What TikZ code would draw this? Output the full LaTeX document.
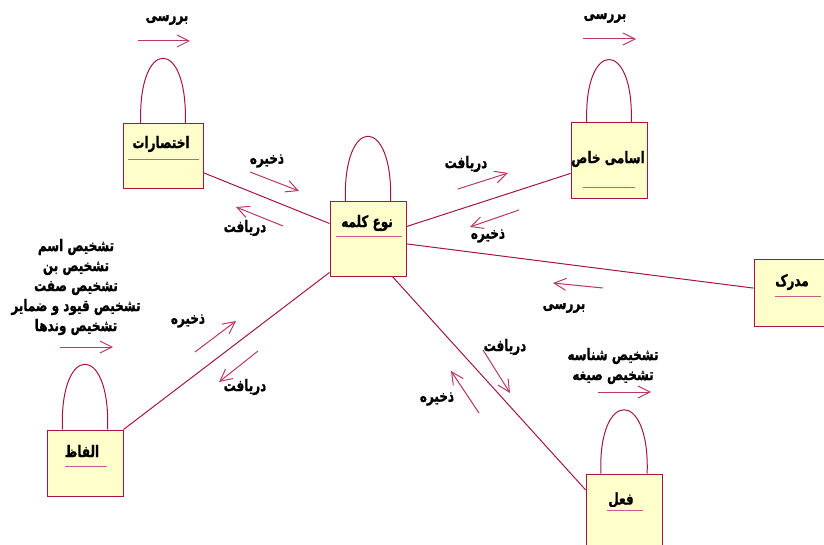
\documentclass[tikz,border=0pt]{standalone}
\usepackage{fontspec}
\newfontfamily\farsi[Script=Arabic, BoldFeatures={FakeBold=1.2}]{DejaVu Sans}
\TeXXeTstate=1
\usetikzlibrary{arrows.meta}

\definecolor{wine}{RGB}{165,20,70}
\definecolor{msgpink}{RGB}{185,55,105}
\definecolor{objfill}{RGB}{255,255,204}
\definecolor{sepline}{RGB}{200,95,130}

\newcommand{\fatxt}[1]{\scalebox{0.75}[1]{\beginR #1\endR}}

\tikzset{every picture/.style={line width=0.75pt}}
\tikzset{
  obj/.style={draw=wine, fill=objfill, inner sep=0pt},
  link/.style={draw=wine},
  sep/.style={draw=sepline},
  msg/.style={draw=msgpink, -{Straight Barb[length=9pt,width=9pt]}},
  lbl/.style={inner sep=0.75pt, font=\farsi\bfseries\fontsize{12}{15}\selectfont},
}

\begin{document}
\begin{tikzpicture}[x=0.75pt,y=0.75pt,yscale=-1,xscale=1]
	%set diagram left start at 0, and has height of 545
	\useasboundingbox (0,0) rectangle (824,545);

	%Shape: Objects
	\node[obj, minimum width=60pt, minimum height=48.75pt] (ekh) at (163,156.5) {};
	\node[obj, minimum width=57pt, minimum height=55.5pt] (noe) at (368,239) {};
	\node[obj, minimum width=57pt, minimum height=57pt] (asami) at (609,161) {};
	\node[obj, minimum width=57pt, minimum height=49.5pt] (madrak) at (792,293) {};
	\node[obj, minimum width=57pt, minimum height=49.5pt] (alfaz) at (85,463) {};
	\node[obj, minimum width=57pt, minimum height=57pt] (fel) at (624,512) {};

	%Links
	\draw[link] (ekh) -- (noe);
	\draw[link] (noe) -- (asami);
	\draw[link] (noe) -- (madrak);
	\draw[link] (noe.221) -- (alfaz.north east);
	\draw[link] (noe.-57) -- (fel.150);

	%Self links
	\draw[link] (ekh.124) .. controls +(-3,-87) and +(3,-87) .. (ekh.56);
	\draw[link] (noe.121) .. controls +(-3,-87) and +(3,-87) .. (noe.59);
	\draw[link] (asami.120) .. controls +(-3,-84) and +(3,-84) .. (asami.60);
	\draw[link] (alfaz.124) .. controls +(-3,-87) and +(3,-87) .. (alfaz.56);
	\draw[link] (fel.121) .. controls +(-3,-85) and +(3,-85) .. (fel.59);

	%Object names
	\node[lbl] (ekh-name) at (161,144) {\fatxt{اختصارات}};
	\node[lbl] (noe-name) at (367,223) {\fatxt{نوع کلمه}};
	\node[lbl] (asami-name) at (608,159) {\fatxt{اسامی خاص}};
	\node[lbl] (madrak-name) at (792,282) {\fatxt{مدرک}};
	\node[lbl] (alfaz-name) at (82,451) {\fatxt{الفاظ}};
	\node[lbl] (fel-name) at (621,500) {\fatxt{فعل}};
	\draw[sep] (128,160) -- (199,160);
	\draw[sep] (336,237) -- (402,237);
	\draw[sep] (583,188) -- (635,188);
	\draw[sep] (775,296) -- (821,296);
	\draw[sep] (65,466) -- (107,466);
	\draw[sep] (607,510) -- (643,510);

	%Messages
	\draw[msg] (138,41) -- (190,41);
	\node[lbl] (ekh-msg) at (167,20) {\fatxt{بررسی}};
	\draw[msg] (583,39) -- (636,39);
	\node[lbl] (asami-msg) at (605,18) {\fatxt{بررسی}};
	\draw[msg] (250,172) -- (299,191);
	\node[lbl] (ekh-store) at (267,161) {\fatxt{ذخیره}};
	\draw[msg] (283,226) -- (236,207);
	\node[lbl] (ekh-get) at (245,228) {\fatxt{دریافت}};
	\draw[msg] (458,189) -- (508,173);
	\node[lbl] (asami-get) at (466,164) {\fatxt{دریافت}};
	\draw[msg] (519,210) -- (470,227);
	\node[lbl] (asami-store) at (488,236) {\fatxt{ذخیره}};
	\draw[msg] (603,288) -- (553,283);
	\node[lbl] (madrak-msg) at (564,308) {\fatxt{بررسی}};
	\draw[msg] (195,352) -- (236,321);
	\node[lbl] (alfaz-store) at (188,321) {\fatxt{ذخیره}};
	\draw[msg] (258,351) -- (219,382);
	\node[lbl] (alfaz-get) at (245,387) {\fatxt{دریافت}};
	\draw[msg] (483,350) -- (510,393);
	\node[lbl] (fel-get) at (505,347) {\fatxt{دریافت}};
	\draw[msg] (479,413) -- (451,371);
	\node[lbl] (fel-store) at (437,399) {\fatxt{ذخیره}};
	\draw[msg] (60,347) -- (113,347);
	\node[lbl, align=center] (alfaz-msg) at (76,287) {\fatxt{تشخیص اسم}\\\fatxt{تشخیص بن}\\\fatxt{تشخیص صفت}\\\fatxt{تشخیص قیود و ضمایر}\\\fatxt{تشخیص وندها}};
	\draw[msg] (598,392) -- (651,392);
	\node[lbl, align=center] (fel-msg) at (613,366) {\fatxt{تشخیص شناسه}\\\fatxt{تشخیص صیغه}};
\end{tikzpicture}
\end{document}
